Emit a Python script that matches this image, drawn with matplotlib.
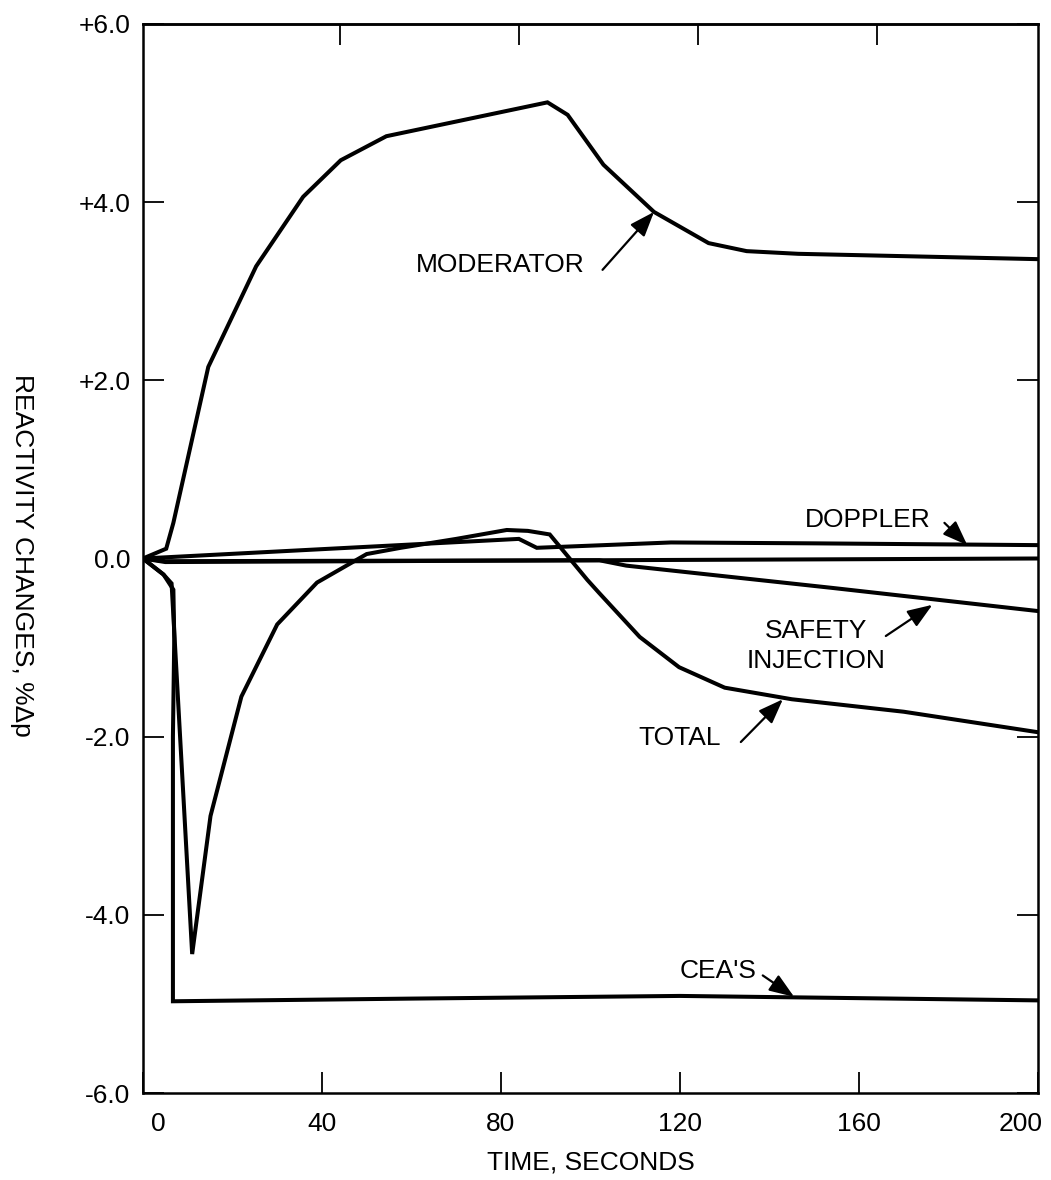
import matplotlib.pyplot as plt
import matplotlib.transforms as mtransforms

plt.rcParams['font.family'] = ['Liberation Sans', 'DejaVu Sans']

# curve data (time in s, reactivity in %)
mod_t = [0, 5.2, 6.8, 14.6, 25.3, 35.8, 44.2, 54.4, 90.4, 94.9, 102.9, 114.2, 126.4, 134.9, 146.4, 200]
mod_v = [0, 0.11, 0.40, 2.15, 3.28, 4.06, 4.47, 4.74, 5.12, 4.98, 4.42, 3.89, 3.54, 3.45, 3.42, 3.36]

dop_t = [0, 84, 88, 118, 150, 200]
dop_v = [0, 0.22, 0.12, 0.18, 0.17, 0.15]

zero_t = [0, 5, 100, 200]
zero_v = [0, -0.04, -0.02, 0.0]

si_t = [0, 5, 102, 108, 154, 200]
si_v = [0, -0.03, -0.02, -0.08, -0.33, -0.59]

tot_t = [0, 4.6, 6.4, 11.0, 15.1, 22.0, 30.0, 38.9, 50.0, 57.6, 70.0, 81.3, 86.0, 90.9, 99.3, 102.0, 111.0, 119.8, 130.0, 145.0, 170.0, 200]
tot_v = [0, -0.18, -0.28, -4.44, -2.89, -1.55, -0.74, -0.27, 0.05, 0.12, 0.22, 0.32, 0.31, 0.27, -0.24, -0.39, -0.88, -1.22, -1.45, -1.58, -1.72, -1.95]

cea_t = [0, 4.6, 6.8, 7.0, 6.7, 6.7, 60, 120, 200]
cea_v = [0, -0.18, -0.35, -0.9, -2.0, -4.97, -4.94, -4.91, -4.96]

xticks = [0, 40, 80, 120, 160, 200]
yticks = [6, 4, 2, 0, -2, -4, -6]
ylabels = ['+6.0', '+4.0', '+2.0', '0.0', '-2.0', '-4.0', '-6.0']

fig = plt.figure(figsize=(10.51, 11.80), dpi=100)
ax = fig.add_axes([0.136, 0.0737, 0.8516, 0.906])

lw = 2.9
for t, v in [(mod_t, mod_v), (dop_t, dop_v), (zero_t, zero_v), (si_t, si_v), (tot_t, tot_v), (cea_t, cea_v)]:
    ax.plot(t, v, color='black', lw=lw, solid_joinstyle='miter')

ax.set_xlim(0.4, 199.3)
ax.set_ylim(-6, 6)

ax.set_xticks(xticks)
ax.set_xticklabels([str(x) for x in xticks])
ax.set_yticks(yticks)
ax.set_yticklabels(ylabels)
ax.tick_params(axis='both', direction='in', length=15, width=1.3, labelsize=19, right=True)
ax.tick_params(axis='x', pad=14)
ax.tick_params(axis='y', pad=9)
for s in ax.spines.values():
    s.set_linewidth(1.8)

# first and last x labels sit inside the tick positions
labs = ax.get_xticklabels()
labs[0].set_transform(labs[0].get_transform() + mtransforms.ScaledTranslation(0.15, 0, fig.dpi_scale_trans))
labs[-1].set_transform(labs[-1].get_transform() + mtransforms.ScaledTranslation(-0.17, 0, fig.dpi_scale_trans))

top = ax.secondary_xaxis('top')
top.set_xticks([44, 84, 124, 164])
top.set_xticklabels([])
top.tick_params(direction='in', length=15, width=1.3)
top.spines['top'].set_linewidth(1.8)

ax.set_xlabel('TIME, SECONDS', fontsize=19, labelpad=10)
fig.text(0.021, 0.529, 'REACTIVITY CHANGES, %\u0394p', rotation=270, fontsize=19, ha='center', va='center')

arrow = dict(arrowstyle='-|>,head_length=0.8,head_width=0.3', color='black', lw=1.6,
             shrinkA=0, shrinkB=0, mutation_scale=19)

ax.text(98.7, 3.29, 'MODERATOR', fontsize=19, ha='right', va='center')
ax.annotate('', xy=(114.2, 3.89), xytext=(102.7, 3.24), arrowprops=arrow)

ax.text(176, 0.43, 'DOPPLER', fontsize=19, ha='right', va='center')
ax.annotate('', xy=(184.2, 0.15), xytext=(179.1, 0.40), arrowprops=arrow)

ax.text(150.4, -0.98, 'SAFETY\nINJECTION', fontsize=19, ha='center', va='center', linespacing=1.3)
ax.annotate('', xy=(176.4, -0.52), xytext=(166, -0.87), arrowprops=arrow)

ax.text(129.1, -2.01, 'TOTAL', fontsize=19, ha='right', va='center')
ax.annotate('', xy=(143, -1.58), xytext=(133.6, -2.06), arrowprops=arrow)

ax.text(137.1, -4.63, "CEA'S", fontsize=19, ha='right', va='center')
ax.annotate('', xy=(145.5, -4.92), xytext=(138.5, -4.68), arrowprops=arrow)

plt.savefig('out.png', dpi=100)
